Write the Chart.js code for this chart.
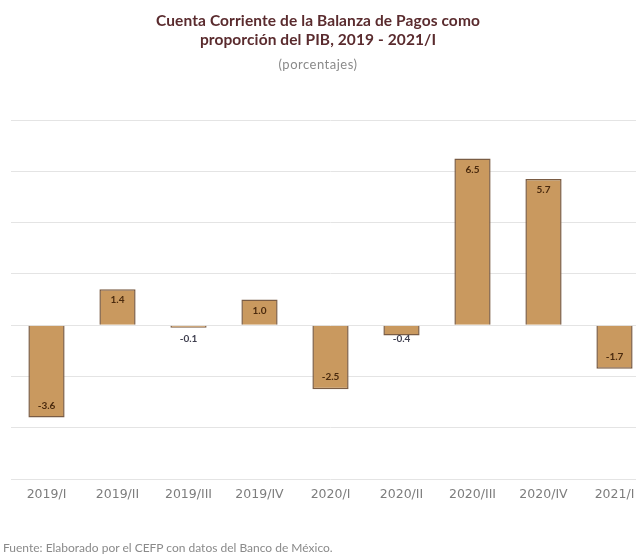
<!DOCTYPE html>
<html>
<head>
<meta charset="utf-8">
<script src="https://cdn.jsdelivr.net/npm/chart.js@4/dist/chart.umd.min.js"></script>
<style>
  html, body { margin: 0; padding: 0; background: #fff; overflow: hidden; }
  #wrap { position: relative; width: 636px; height: 556px; overflow: hidden; }
  #myChart { position: absolute; left: 0; top: 0; }
  .titulo {
    position: absolute; left: 0; width: 636px; text-align: center;
    font: bold 15.5px Lato, sans-serif; color: #5a2b2e; line-height: 19px;
    top: 11px; letter-spacing: 0.1px;
  }
  .subtitulo {
    position: absolute; left: 0; width: 636px; text-align: center; top: 56px;
    font: 13px Lato, sans-serif; color: #8a8a8a; letter-spacing: 0.5px;
  }
  #fuente {
    position: absolute; left: 3px; top: 540px;
    font: 12px Lato, sans-serif; color: #8a8a8a; white-space: nowrap;
  }
</style>
</head>
<body>
<div id="wrap">
  <canvas id="myChart" width="650" height="556"></canvas>
  <div class="titulo">Cuenta Corriente de la Balanza de Pagos como<br>proporción del PIB, 2019 - 2021/I</div>
  <div class="subtitulo">(porcentajes)</div>
  <div id="fuente">Fuente: Elaborado por el CEFP con datos del Banco de México.</div>
</div>
<script>
const trimestres = ["2019/I", "2019/II", "2019/III", "2019/IV", "2020/I", "2020/II", "2020/III", "2020/IV", "2021/I"];
const cuentaCorriente = [-3.6, 1.4, -0.1, 1.0, -2.5, -0.4, 6.5, 5.7, -1.7];

// etiquetas de valor dentro del extremo de cada barra
const etiquetasBarras = {
  id: "etiquetasBarras",
  afterDatasetsDraw(chart) {
    const { ctx } = chart;
    const meta = chart.getDatasetMeta(0);
    const y0 = chart.scales.y.getPixelForValue(0);
    ctx.save();
    ctx.font = "bold 10px Lato, sans-serif";
    ctx.textAlign = "center";
    ctx.textBaseline = "middle";
    meta.data.forEach((bar, i) => {
      const v = cuentaCorriente[i];
      const alto = Math.abs(bar.y - y0);
      let y;
      if (alto < 20) {
        // barras muy cortas: la etiqueta va debajo
        y = y0 + 14;
        ctx.fillStyle = "#3f3f4f";
      } else {
        y = v >= 0 ? bar.y + 11 : bar.y - 12;
        ctx.fillStyle = "#4a2a0e";
      }
      ctx.fillText(v.toFixed(1), bar.x, y);
    });
    ctx.restore();
  },
};

const ctx = document.getElementById("myChart");

new Chart(ctx, {
  type: "bar",
  data: {
    labels: trimestres,
    datasets: [
      {
        label: "Cuenta corriente (% del PIB)",
        data: cuentaCorriente,
        backgroundColor: "#c9995f",
        borderColor: "#7a5c44",
        borderWidth: 1.5,
        categoryPercentage: 1,
        barPercentage: 0.51,
      },
    ],
  },
  options: {
    responsive: false,
    animation: false,
    layout: {
      padding: { top: 120, left: 11, right: 0, bottom: 46 },
    },
    plugins: {
      legend: { display: false },
      tooltip: { enabled: false },
    },
    scales: {
      x: {
        grid: { display: false, drawTicks: false },
        border: { display: false },
        ticks: {
          color: "#7d7d7d",
          font: { family: "DejaVu Sans, sans-serif", size: 12.5 },
          padding: 8,
          maxRotation: 0,
          autoSkip: false,
        },
      },
      y: {
        min: -6,
        max: 8,
        grid: { color: "#e4e4e4", lineWidth: 1, drawTicks: false },
        border: { display: false },
        ticks: { display: false, stepSize: 2 },
      },
    },
  },
  plugins: [etiquetasBarras],
});
</script>
</body>
</html>
